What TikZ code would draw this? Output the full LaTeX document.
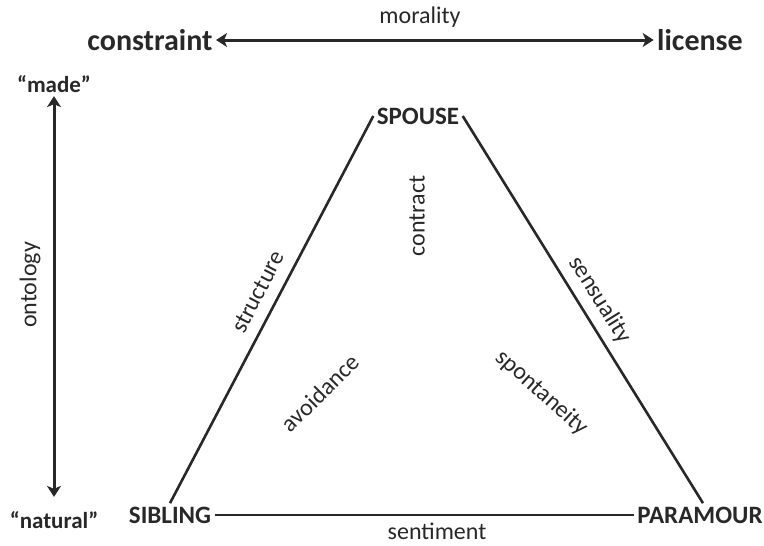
\documentclass[tikz,border=0pt]{standalone}
\usepackage{fontspec}
\setmainfont{Carlito}
\usetikzlibrary{arrows.meta,positioning,calc}
\definecolor{ink}{RGB}{40,40,40}
\tikzset{big/.style={font=\fontsize{30}{33}\selectfont\bfseries,text=ink},
 vert/.style={font=\fontsize{25}{28}\selectfont\bfseries,text=ink},
 end/.style={font=\fontsize{23}{26}\selectfont\bfseries,text=ink},
 lab/.style={font=\fontsize{24}{26}\selectfont,text=ink},
 edge/.style={line width=2.6pt,draw=ink},
 arr/.style={{Stealth[length=11pt,width=14pt,inset=3pt]}-{Stealth[length=11pt,width=14pt,inset=3pt]},line width=3pt,draw=ink}}
\begin{document}
\begin{tikzpicture}[x=1pt,y=-1pt]
\useasboundingbox (0,0) rectangle (764,546);
% morality axis
\node[big] (con) at (150,40) {constraint};
\node[big] (lic) at (700,40) {license};
\draw[arr] (con.east) -- (lic.west);
\node[lab] (mor) at (420,17) {morality};
% ontology axis
\node[end] (made) at (54,84) {“made”};
\node[end] (nat) at (54,520) {“natural”};
\draw[arr,shorten >=11pt] (made.south) -- (nat.north);
\node[lab,rotate=90] (ont) at (30,285) {ontology};
% triangle
\node[vert] (sp) at (418,116) {SPOUSE};
\node[vert] (sib) at (170,515) {SIBLING};
\node[vert] (par) at (700,515) {PARAMOUR};
\draw[edge] (sp.west) -- (sib.north);
\draw[edge] (sp.east) -- ($(par.north)+(3,0)$);
\draw[edge] (sib.east) -- (par.west);
\node[lab,rotate=62.6] (str) at (258,292) {structure};
\node[lab,rotate=-58.2] (sen) at (600,300) {sensuality};
\node[lab] (sent) at (437,531) {sentiment};
\node[lab,rotate=90] (ctr) at (417,216) {contract};
\node[lab,rotate=45] (avo) at (320,393) {avoidance};
\node[lab,rotate=-42] (spo) at (542,393) {spontaneity};
\end{tikzpicture}
\end{document}
